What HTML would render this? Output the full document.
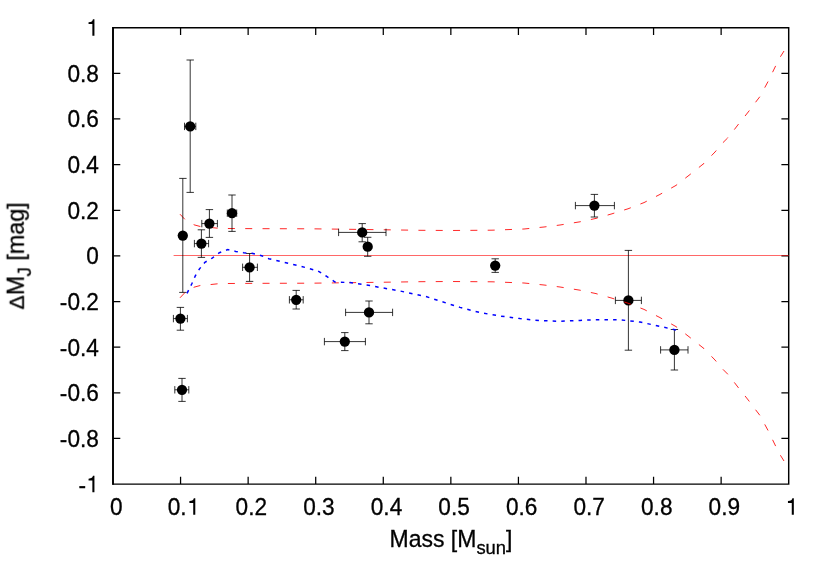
<!DOCTYPE html>
<html><head><meta charset="utf-8"><title>plot</title>
<style>
html,body{margin:0;padding:0;background:#fff;}
body{width:830px;height:581px;overflow:hidden;}
svg{display:block;}
text{font-family:"Liberation Sans",sans-serif;fill:#000;}
</style></head><body>
<svg width="830" height="581" viewBox="0 0 830 581">
<rect width="830" height="581" fill="#fff"/>
<g font-size="23.0" style="opacity:0.999" stroke="#000" stroke-width="0.30" fill="#000">
<path transform="translate(86.11,35.80) scale(0.02300,-0.02343)" d="M362 0L272 0L272 500L106 500L106 578Q200 584 246 615Q284 645 298 703L362 703Z" stroke="none"/>
<text transform="translate(98.90,81.79) scale(0.985,1.045)" text-anchor="end" xml:space="preserve">0.8</text>
<text transform="translate(98.90,127.43) scale(0.985,1.045)" text-anchor="end" xml:space="preserve">0.6</text>
<text transform="translate(98.90,173.07) scale(0.985,1.045)" text-anchor="end" xml:space="preserve">0.4</text>
<text transform="translate(98.90,218.71) scale(0.985,1.045)" text-anchor="end" xml:space="preserve">0.2</text>
<text transform="translate(98.90,264.35) scale(0.985,1.045)" text-anchor="end" xml:space="preserve">0</text>
<text transform="translate(98.90,309.99) scale(0.985,1.045)" text-anchor="end" xml:space="preserve">-0.2</text>
<text transform="translate(98.90,355.63) scale(0.985,1.045)" text-anchor="end" xml:space="preserve">-0.4</text>
<text transform="translate(98.90,401.27) scale(0.985,1.045)" text-anchor="end" xml:space="preserve">-0.6</text>
<text transform="translate(98.90,446.91) scale(0.985,1.045)" text-anchor="end" xml:space="preserve">-0.8</text>
<text transform="translate(86.11,492.55) scale(0.985,1.045)" text-anchor="end" xml:space="preserve">-</text>
<path transform="translate(86.11,492.20) scale(0.02300,-0.02343)" d="M362 0L272 0L272 500L106 500L106 578Q200 584 246 615Q284 645 298 703L362 703Z" stroke="none"/>
<text transform="translate(116.20,515.00) scale(0.985,1.045)" text-anchor="middle" xml:space="preserve">0</text>
<text transform="translate(167.78,515.00) scale(0.985,1.045)" text-anchor="start" xml:space="preserve">0.</text>
<path transform="translate(186.97,514.65) scale(0.02300,-0.02343)" d="M362 0L272 0L272 500L106 500L106 578Q200 584 246 615Q284 645 298 703L362 703Z" stroke="none"/>
<text transform="translate(251.34,515.00) scale(0.985,1.045)" text-anchor="middle" xml:space="preserve">0.2</text>
<text transform="translate(318.91,515.00) scale(0.985,1.045)" text-anchor="middle" xml:space="preserve">0.3</text>
<text transform="translate(386.48,515.00) scale(0.985,1.045)" text-anchor="middle" xml:space="preserve">0.4</text>
<text transform="translate(454.05,515.00) scale(0.985,1.045)" text-anchor="middle" xml:space="preserve">0.5</text>
<text transform="translate(521.62,515.00) scale(0.985,1.045)" text-anchor="middle" xml:space="preserve">0.6</text>
<text transform="translate(589.19,515.00) scale(0.985,1.045)" text-anchor="middle" xml:space="preserve">0.7</text>
<text transform="translate(656.76,515.00) scale(0.985,1.045)" text-anchor="middle" xml:space="preserve">0.8</text>
<text transform="translate(724.33,515.00) scale(0.985,1.045)" text-anchor="middle" xml:space="preserve">0.9</text>
<path transform="translate(785.51,514.65) scale(0.02300,-0.02343)" d="M362 0L272 0L272 500L106 500L106 578Q200 584 246 615Q284 645 298 703L362 703Z" stroke="none"/>
<text transform="translate(389.50,546.80) scale(1.000,1.010)" text-anchor="start" xml:space="preserve">Mass [M<tspan font-size="18.4" dy="7.0">sun</tspan><tspan dy="-7.0">]</tspan></text>
<text transform="translate(24.0,309.4) rotate(-90) scale(1.012,1.010)" xml:space="preserve"><tspan font-size="20.7">Δ</tspan><tspan dx="0.3">M</tspan><tspan font-size="18.4" dy="6.6" dx="-0.6">J</tspan><tspan dy="-6.6"> [mag]</tspan></text>
</g>
<g stroke="#000" stroke-width="1.45" fill="none" stroke-linecap="butt">
<path d="M113.00 484.10V27.70H788.70V484.10H112.30" stroke-linejoin="miter"/>
<path d="M113.00 484.80V27.00" stroke-width="1.75"/>
<path d="M180.57 484.10v-7.30M180.57 27.70v7.30M248.14 484.10v-7.30M248.14 27.70v7.30M315.71 484.10v-7.30M315.71 27.70v7.30M383.28 484.10v-7.30M383.28 27.70v7.30M450.85 484.10v-7.30M450.85 27.70v7.30M518.42 484.10v-7.30M518.42 27.70v7.30M585.99 484.10v-7.30M585.99 27.70v7.30M653.56 484.10v-7.30M653.56 27.70v7.30M721.13 484.10v-7.30M721.13 27.70v7.30M113.00 73.34h7.30M788.70 73.34h-7.30M113.00 118.98h7.30M788.70 118.98h-7.30M113.00 164.62h7.30M788.70 164.62h-7.30M113.00 210.26h7.30M788.70 210.26h-7.30M113.00 255.90h7.30M788.70 255.90h-7.30M113.00 301.54h7.30M788.70 301.54h-7.30M113.00 347.18h7.30M788.70 347.18h-7.30M113.00 392.82h7.30M788.70 392.82h-7.30M113.00 438.46h7.30M788.70 438.46h-7.30" stroke-width="1.25"/>
</g>
<line x1="173.6" y1="255.50" x2="788.7" y2="255.50" stroke="#f00" stroke-width="0.6"/>
<path d="M180.0 214.2 L185.0 219.5 L194.0 224.8 L201.0 226.7 L211.0 227.5 L217.6 228.2 L228.0 228.5 L243.0 228.6 L270.0 228.7 L310.0 228.8 L350.0 229.3 L400.0 230.0 L420.0 230.3 L450.0 230.5 L492.0 230.2 L524.0 229.0 L544.0 227.0 L560.0 225.0 L580.0 221.8 L596.0 218.4 L612.0 213.8 L628.0 208.8 L644.0 202.6 L660.0 194.4 L676.0 185.4 L690.0 174.5 L704.0 163.4 L715.0 152.0 L722.6 143.0 L727.6 138.0 L734.0 130.0 L738.6 124.0 L744.6 116.6 L749.0 111.0 L755.0 103.0 L760.0 96.5 L764.0 89.0 L768.0 81.6 L772.0 73.4 L775.6 66.0 L780.0 57.4 L784.0 51.0" fill="none" stroke="#f00" stroke-width="0.85" stroke-dasharray="7.0 10.32"/>
<path d="M182.8 178.4V292.4M179.2 178.4h7.4M179.2 292.4h7.4M190.2 60.0V192.4M186.5 60.0h7.4M186.5 192.4h7.4M184.5 126.4H195.8M184.5 122.7v7.4M195.8 122.7v7.4M201.4 229.8V257.4M197.7 229.8h7.4M197.7 257.4h7.4M194.4 243.6H208.6M194.4 239.9v7.4M208.6 239.9v7.4M209.4 209.6V237.4M205.7 209.6h7.4M205.7 237.4h7.4M201.8 223.6H217.4M201.8 219.9v7.4M217.4 219.9v7.4M232.0 195.0V231.4M228.3 195.0h7.4M228.3 231.4h7.4M227.3 213.2H236.7M227.3 209.5v7.4M236.7 209.5v7.4M249.6 253.5V281.4M245.9 253.5h7.4M245.9 281.4h7.4M242.6 267.3H257.4M242.6 263.6v7.4M257.4 263.6v7.4M180.4 307.4V330.2M176.7 307.4h7.4M176.7 330.2h7.4M173.4 318.6H187.4M173.4 314.9v7.4M187.4 314.9v7.4M182.0 378.4V401.4M178.3 378.4h7.4M178.3 401.4h7.4M174.8 389.8H188.8M174.8 386.1v7.4M188.8 386.1v7.4M296.2 290.4V309.0M292.5 290.4h7.4M292.5 309.0h7.4M289.4 299.8H303.2M289.4 296.1v7.4M303.2 296.1v7.4M344.8 332.6V350.6M341.1 332.6h7.4M341.1 350.6h7.4M324.4 341.6H365.4M324.4 337.9v7.4M365.4 337.9v7.4M369.0 301.0V323.8M365.3 301.0h7.4M365.3 323.8h7.4M345.6 312.4H392.6M345.6 308.7v7.4M392.6 308.7v7.4M362.2 223.6V241.8M358.5 223.6h7.4M358.5 241.8h7.4M338.6 232.4H386.0M338.6 228.7v7.4M386.0 228.7v7.4M367.7 237.3V256.3M364.0 237.3h7.4M364.0 256.3h7.4M495.2 258.8V272.4M491.5 258.8h7.4M491.5 272.4h7.4M594.4 194.4V217.0M590.7 194.4h7.4M590.7 217.0h7.4M575.4 205.6H614.4M575.4 201.9v7.4M614.4 201.9v7.4M628.4 250.4V350.2M624.7 250.4h7.4M624.7 350.2h7.4M615.4 300.4H641.4M615.4 296.7v7.4M641.4 296.7v7.4M674.4 329.5V370.0M670.7 329.5h7.4M670.7 370.0h7.4M660.6 349.9H688.0M660.6 346.2v7.4M688.0 346.2v7.4" fill="none" stroke="#000" stroke-width="0.8"/>
<g fill="#000">
<circle cx="182.8" cy="235.6" r="5.15"/>
<circle cx="190.2" cy="126.4" r="5.15"/>
<circle cx="201.4" cy="243.6" r="5.15"/>
<circle cx="209.4" cy="223.6" r="5.15"/>
<circle cx="232.0" cy="213.2" r="5.15"/>
<circle cx="249.6" cy="267.3" r="5.15"/>
<circle cx="180.4" cy="318.6" r="5.15"/>
<circle cx="182.0" cy="389.8" r="5.15"/>
<circle cx="296.2" cy="299.8" r="5.15"/>
<circle cx="344.8" cy="341.6" r="5.15"/>
<circle cx="369.0" cy="312.4" r="5.15"/>
<circle cx="362.2" cy="232.4" r="5.15"/>
<circle cx="367.7" cy="246.7" r="5.15"/>
<circle cx="495.2" cy="265.6" r="5.15"/>
<circle cx="594.4" cy="205.6" r="5.15"/>
<circle cx="628.4" cy="300.4" r="5.15"/>
<circle cx="674.4" cy="349.9" r="5.15"/>
</g>
<path d="M180.0 297.8 L185.0 292.5 L194.0 287.2 L201.0 285.3 L211.0 284.5 L217.6 283.8 L228.0 283.5 L243.0 283.4 L270.0 283.3 L310.0 283.2 L350.0 282.7 L400.0 282.0 L420.0 281.7 L450.0 281.5 L492.0 281.8 L524.0 283.0 L544.0 285.0 L560.0 287.0 L580.0 290.2 L596.0 293.6 L612.0 298.2 L628.0 303.2 L644.0 309.4 L660.0 317.6 L676.0 326.6 L690.0 337.5 L704.0 348.6 L715.0 360.0 L722.6 369.0 L727.6 374.0 L734.0 382.0 L738.6 388.0 L744.6 395.4 L749.0 401.0 L755.0 409.0 L760.0 415.5 L764.0 423.0 L768.0 430.4 L772.0 438.6 L775.6 446.0 L780.0 454.6 L784.0 461.0" fill="none" stroke="#f00" stroke-width="0.85" stroke-dasharray="7.0 10.32"/>
<path d="M186.9 293.6 L191.7 284.0 L195.3 275.9 L199.5 268.9 L204.9 262.3 L212.2 258.1 L219.4 252.7 L227.8 249.6 L235.7 251.4 L243.5 252.7 L251.9 253.3 L261.6 255.7 L268.8 258.7 L280.0 261.4 L300.0 266.0 L318.0 271.0 L326.0 276.0 L335.0 282.0 L350.0 282.6 L370.0 285.6 L400.0 291.0 L426.0 296.6 L440.0 301.0 L460.0 307.4 L480.0 312.6 L500.0 316.0 L520.0 318.6 L540.0 320.6 L560.0 321.3 L580.0 320.4 L600.0 319.6 L620.0 319.8 L640.0 322.0 L660.0 326.4 L676.0 330.0" fill="none" stroke="#00f" stroke-width="1.5" stroke-dasharray="3.5 5.14" stroke-dashoffset="-0.3"/>
</svg>
</body></html>
